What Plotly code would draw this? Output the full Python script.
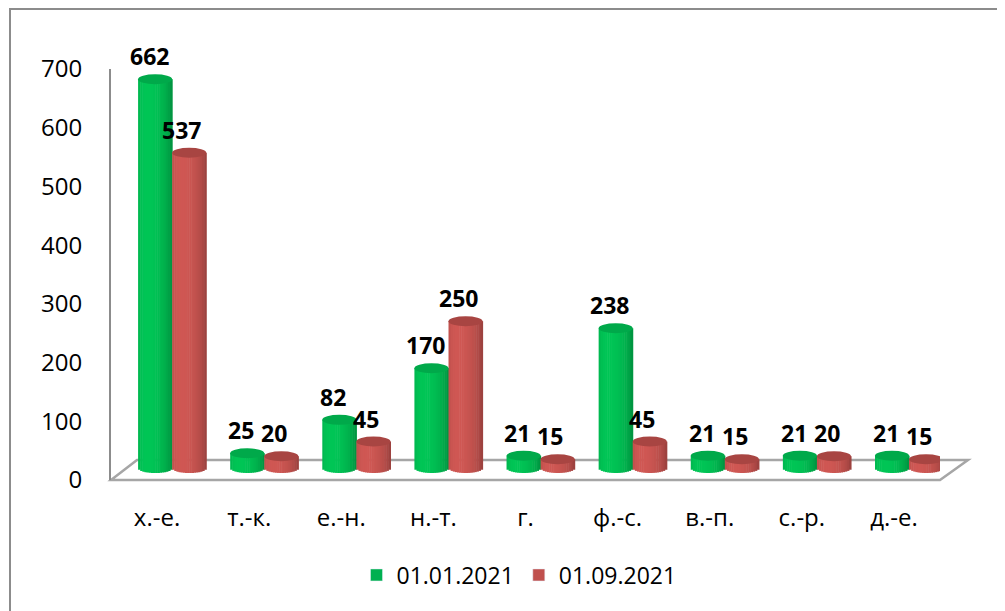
import numpy as np
import plotly.graph_objects as go

categories = ["х.-е.", "т.-к.", "е.-н.", "н.-т.", "г.", "ф.-с.", "в.-п.", "с.-р.", "д.-е."]
jan_2021 = [662, 25, 82, 170, 21, 238, 21, 21, 21]
sep_2021 = [537, 20, 45, 250, 15, 45, 15, 20, 15]
series_names = ["01.01.2021", "01.09.2021"]
y_ticks = [0, 100, 200, 300, 400, 500, 600, 700]

FONT = "Open Sans"
PAGE = 8                      # default body margin of the html page
W, H = 1005 - PAGE, 611 - PAGE
# plot area in page pixels: x 111..940, y 69..480
ML, MT = 111 - PAGE, 69 - PAGE
MR, MB = W - (940 - PAGE), H - (480 - PAGE)
PW, PH = W - ML - MR, H - MT - MB
PX_PER_UNIT = PH / 700
LIFT = 12 / PX_PER_UNIT      # bases sit a little behind the front floor edge
CAP = 5 / PX_PER_UNIT        # half height of the elliptical caps
N_STRIPS = 16
BAR_W = 0.37


def px_x(px):
    return (px - PAGE - ML) / PW


def px_y(py):
    return (H - MB - (py - PAGE)) / PH


def shade(rgb, u):
    # brightness across a lit cylinder, light from front-left
    b = 0.78 + 0.22 * np.cos(np.arcsin(u) + 0.45)
    return "rgb({},{},{})".format(*[int(min(255, c * b)) for c in rgb])


series = [
    dict(name=series_names[0], values=jan_2021, left=-0.206, hi=(0, 198, 86),
         cap="#00A94A", legend="#00B050", label_dx=-0.087),
    dict(name=series_names[1], values=sep_2021, left=0.164, hi=(208, 88, 84),
         cap="#A84542", legend="#C0504D", label_dx=0.27),
]

x = np.arange(len(categories))
fig = go.Figure()
shapes = []
annotations = []

for s in series:
    vals = np.array(s["values"], dtype=float)
    step = BAR_W / N_STRIPS
    for k in range(N_STRIPS):
        u = -1 + (2 * k + 1) / N_STRIPS
        base = -CAP * np.sqrt(1 - u * u)
        fig.add_trace(go.Bar(
            x=x, y=vals - base, base=[base] * len(x),
            offset=s["left"] + k * step, width=step * 1.25,
            marker=dict(color=shade(s["hi"], u), line=dict(width=0)),
            yaxis="y2", showlegend=False, hoverinfo="skip",
        ))
    fig.add_trace(go.Bar(x=[None], y=[None], name=s["name"],
                         marker=dict(color=s["legend"])))
    for i, v in enumerate(vals):
        shapes.append(dict(type="circle", xref="x", yref="y2", layer="above",
                           x0=i + s["left"], x1=i + s["left"] + BAR_W,
                           y0=v - CAP, y1=v + CAP,
                           fillcolor=s["cap"], line=dict(width=0)))
        annotations.append(dict(x=i + s["label_dx"], y=v, xref="x", yref="y2",
                                yshift=23, showarrow=False, text=f"<b>{int(v)}</b>",
                                font=dict(family=FONT, size=23, color="black")))

grey = "#A6A6A6"
# floor of the 3D plot area
floor = "M {} {} L {} {} L {} {} L {} {} Z".format(
    px_x(111), px_y(480), px_x(940), px_y(480), px_x(968), px_y(460), px_x(137), px_y(460))
shapes.insert(0, dict(type="path", xref="paper", yref="paper", path=floor,
                      line=dict(color=grey, width=2.5), layer="below"))
# chart border
border = "M {} {} L {} {} L {} {}".format(
    px_x(10), px_y(630), px_x(10), px_y(9), px_x(1020), px_y(9))
shapes.append(dict(type="path", xref="paper", yref="paper", path=border,
                   line=dict(color="#8C8C8C", width=2), layer="below"))

fig.update_layout(
    width=W, height=H,
    margin=dict(l=ML, r=MR, t=MT, b=MB),
    paper_bgcolor="white", plot_bgcolor="white",
    barmode="overlay",
    font=dict(family=FONT, size=23, color="black"),
    xaxis=dict(range=[-0.5, len(categories) - 0.5], tickvals=list(x), ticktext=categories,
               showgrid=False, zeroline=False, showline=False, ticks="",
               ticklabelstandoff=21, tickfont=dict(size=24)),
    yaxis=dict(range=[0, 700], tickvals=y_ticks, showgrid=False, zeroline=False,
               showline=True, linecolor="#8C8C8C", linewidth=2, ticks="",
               ticklabelstandoff=22, tickfont=dict(size=24)),
    yaxis2=dict(range=[-LIFT, 700 - LIFT], overlaying="y", visible=False),
    legend=dict(orientation="h", x=px_x(519), xanchor="center", y=px_y(575),
                yanchor="middle", font=dict(size=23), itemclick=False),
    shapes=shapes,
    annotations=annotations,
    hovermode=False,
)

fig.write_html("out.html")
